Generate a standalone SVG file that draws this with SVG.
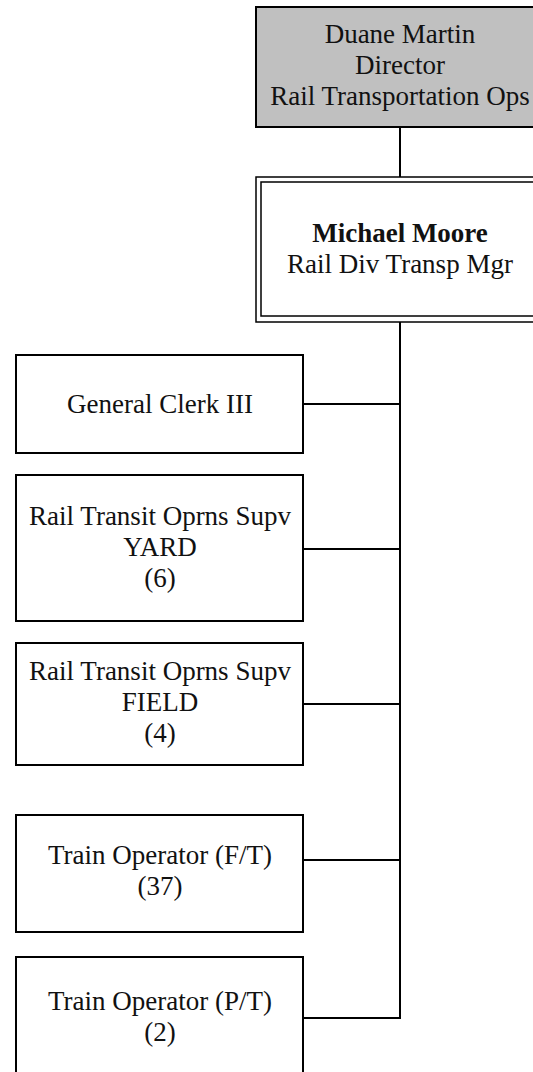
<svg xmlns="http://www.w3.org/2000/svg" width="533" height="1072" viewBox="0 0 533 1072">
<style>
.box{fill:#ffffff;stroke:#000;stroke-width:2}
.top{fill:#c0c0c0;stroke:#000;stroke-width:2}
.dbl{fill:none;stroke:#000;stroke-width:1.5}
.t{font-family:"Liberation Serif","Times New Roman",serif;font-size:27px;fill:#111;text-anchor:middle}
.b{font-weight:bold}
.c{stroke:#000;stroke-width:2;fill:none}
</style>
<rect width="533" height="1072" fill="#ffffff"/>
<g id="connectors">
<line class="c" x1="400" y1="127" x2="400" y2="177"/>
<line class="c" x1="400" y1="322" x2="400" y2="1018"/>
<line class="c" x1="303" y1="404" x2="401" y2="404"/>
<line class="c" x1="303" y1="549" x2="401" y2="549"/>
<line class="c" x1="303" y1="704" x2="401" y2="704"/>
<line class="c" x1="303" y1="860" x2="401" y2="860"/>
<line class="c" x1="303" y1="1018" x2="401" y2="1018"/>
</g>
<g id="director">
<rect class="top" x="256" y="7" width="288" height="120"/>
<text class="t" x="400" y="43">Duane Martin</text>
<text class="t" x="400" y="74">Director</text>
<text class="t" x="400" y="105">Rail Transportation Ops</text>
</g>
<g id="manager">
<rect class="dbl" x="256" y="177" width="290" height="145"/>
<rect class="dbl" x="261" y="182" width="280" height="134"/>
<text class="t b" x="400" y="242">Michael Moore</text>
<text class="t" x="400" y="273">Rail Div Transp Mgr</text>
</g>
<g id="clerk">
<rect class="box" x="16" y="355" width="287" height="98"/>
<text class="t" x="160" y="413">General Clerk III</text>
</g>
<g id="yard">
<rect class="box" x="16" y="475" width="287" height="146"/>
<text class="t" x="160" y="525">Rail Transit Oprns Supv</text>
<text class="t" x="160" y="556">YARD</text>
<text class="t" x="160" y="587">(6)</text>
</g>
<g id="field">
<rect class="box" x="16" y="643" width="287" height="122"/>
<text class="t" x="160" y="680">Rail Transit Oprns Supv</text>
<text class="t" x="160" y="711">FIELD</text>
<text class="t" x="160" y="742">(4)</text>
</g>
<g id="train-ft">
<rect class="box" x="16" y="815" width="287" height="117"/>
<text class="t" x="160" y="864">Train Operator (F/T)</text>
<text class="t" x="160" y="895">(37)</text>
</g>
<g id="train-pt">
<rect class="box" x="16" y="957" width="287" height="125"/>
<text class="t" x="160" y="1010">Train Operator (P/T)</text>
<text class="t" x="160" y="1041">(2)</text>
</g>
</svg>
